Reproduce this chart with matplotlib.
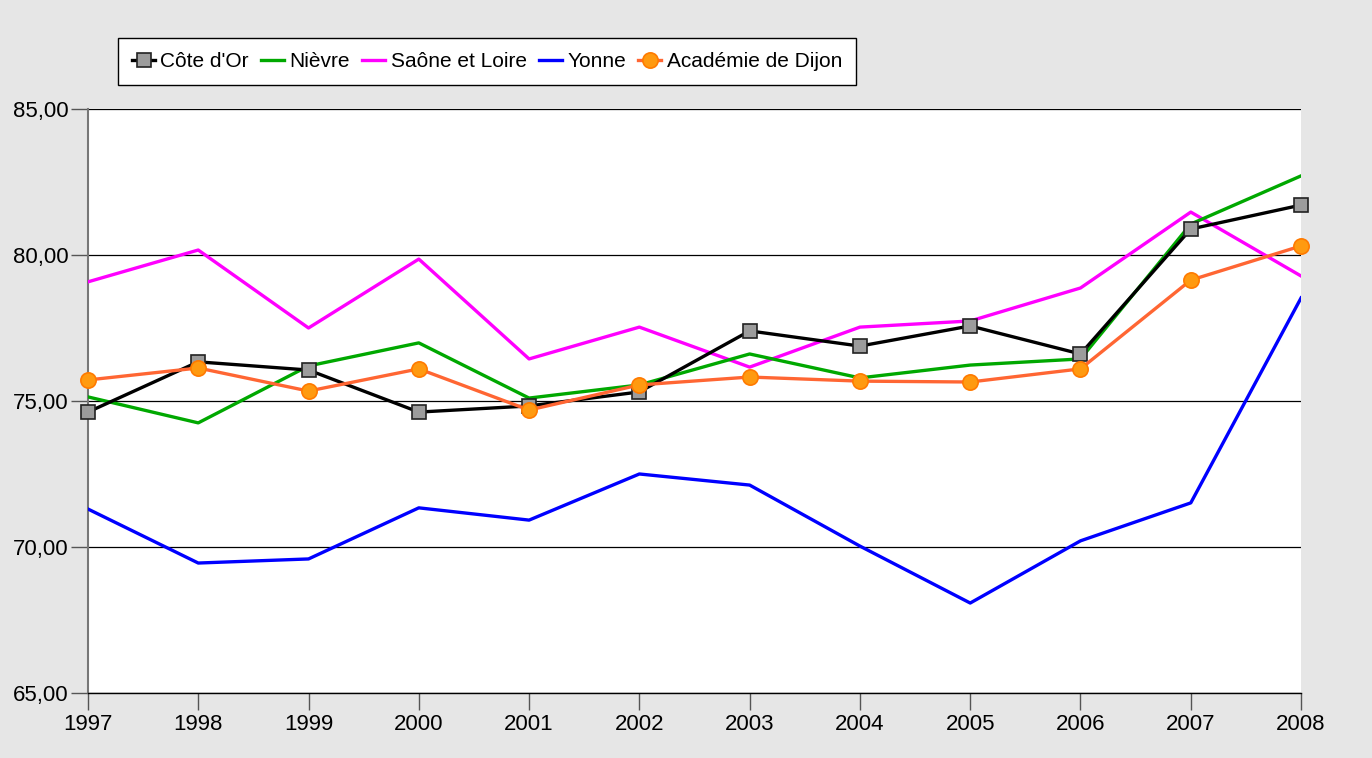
import numpy as np
import matplotlib.pyplot as plt

plt.rcParams['font.family'] = ['Liberation Sans', 'DejaVu Sans']

years = [1997, 1998, 1999, 2000, 2001, 2002, 2003, 2004, 2005, 2006, 2007, 2008]
cote_dor = [74.62, 76.34, 76.06, 74.62, 74.83, 75.31, 77.40, 76.88, 77.57, 76.61, 80.89, 81.71]
nievre = [75.14, 74.25, 76.20, 76.99, 75.10, 75.55, 76.61, 75.79, 76.23, 76.44, 81.06, 82.71]
saone_loire = [79.08, 80.17, 77.50, 79.86, 76.44, 77.53, 76.16, 77.53, 77.74, 78.87, 81.47, 79.28]
yonne = [71.30, 69.45, 69.59, 71.34, 70.92, 72.50, 72.12, 70.03, 68.08, 70.21, 71.51, 78.53]
academie = [75.72, 76.13, 75.34, 76.10, 74.69, 75.55, 75.82, 75.68, 75.65, 76.10, 79.14, 80.31]

fig = plt.figure(figsize=(13.72, 7.58), dpi=100, facecolor="#e6e6e6")
ax = fig.add_axes([0.0641, 0.0858, 0.8842, 0.7704])
ax.set_facecolor("white")

lw = 2.4
ax.plot(years, cote_dor, color="black", lw=lw, marker="s", ms=10,
        mfc="#9c9c9c", mec="#222222", mew=1.2, label="Côte d'Or", zorder=5, clip_on=False)
ax.plot(years, nievre, color="#00a800", lw=lw, label="Nièvre", zorder=4)
ax.plot(years, saone_loire, color="#ff00ff", lw=lw, label="Saône et Loire", zorder=3)
ax.plot(years, yonne, color="#0000ff", lw=lw, label="Yonne", zorder=3)
ax.plot(years, academie, color="#ff6633", lw=lw, marker="o", ms=11,
        mfc="#ff9a10", mec="#ff7a00", mew=1.2, label="Académie de Dijon", zorder=6, clip_on=False)

ax.set_xlim(1997, 2008)
ax.set_ylim(65, 85)
ax.set_yticks([65, 70, 75, 80, 85])
ax.set_yticklabels(["65,00", "70,00", "75,00", "80,00", "85,00"])
ax.set_xticks(years)
ax.set_xticklabels([str(y) for y in years])
ax.yaxis.grid(True, color="black", lw=0.9)
ax.set_axisbelow(True)

for s in ["top", "right"]:
    ax.spines[s].set_visible(False)
ax.spines["left"].set_color("#777777")
ax.spines["left"].set_linewidth(1.5)
ax.spines["bottom"].set_color("black")
ax.spines["bottom"].set_linewidth(1.0)
ax.tick_params(axis="both", direction="out", length=12, width=1, colors="#555555",
               labelsize=16, labelcolor="black")
ax.tick_params(axis="y", pad=2)
ax.tick_params(axis="x", pad=3)

leg = fig.legend(loc="upper left", bbox_to_anchor=(0.086, 0.95), ncol=5, fontsize=15,
                 frameon=True, fancybox=False, framealpha=1, handlelength=1.1,
                 handletextpad=0.25, columnspacing=0.6, borderpad=0.68, borderaxespad=0)
leg.get_frame().set_edgecolor("black")
leg.get_frame().set_linewidth(1.0)

fig.savefig("out.png", dpi=100, facecolor=fig.get_facecolor())
